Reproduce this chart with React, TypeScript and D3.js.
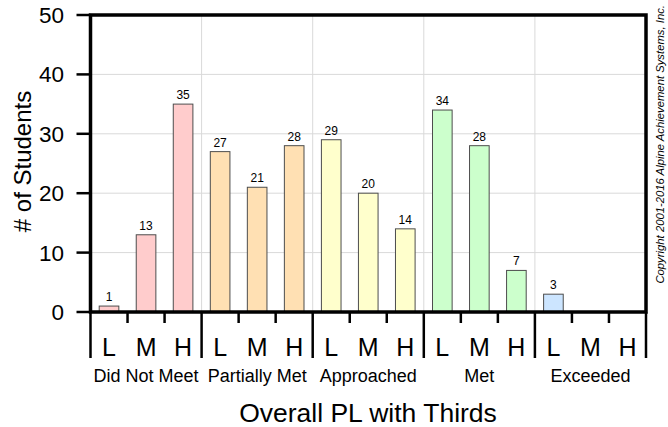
import React from "react";
import * as d3 from "d3";

const groups = ["Did Not Meet", "Partially Met", "Approached", "Met", "Exceeded"];
const thirds = ["L", "M", "H"];
const values = [1, 13, 35, 27, 21, 28, 29, 20, 14, 34, 28, 7, 3, 0, 0];
const colors = ["#FFCCCC", "#FFE0B3", "#FFFFCC", "#CCFFCC", "#CCE5FF"];
const yTicks = [0, 10, 20, 30, 40, 50];

const W = 668, H = 427;
const m = { left: 90.5, right: 646, top: 15, bottom: 312 };
const font = "Liberation Sans, Arial, sans-serif";

export default function App() {
  const keys = d3.range(values.length);
  const x = d3.scaleBand<number>().domain(keys).range([m.left, m.right]).paddingInner(0.47).paddingOuter(0.235);
  const slot = d3.scaleBand<number>().domain(keys).range([m.left, m.right]);
  const y = d3.scaleLinear().domain([0, 50]).range([m.bottom, m.top]);
  const gx = d3.scaleBand<number>().domain(d3.range(groups.length)).range([m.left, m.right]);

  return (
    <svg width={W} height={H} style={{ position: "absolute", left: 0, top: 0 }} fontFamily={font}>
      <rect width={W} height={H} fill="#fff" />
      {yTicks.slice(1, -1).map((t) => (
        <line key={t} x1={m.left} x2={m.right} y1={y(t)} y2={y(t)} stroke="#d9d9d9" strokeWidth={1} />
      ))}
      {d3.range(1, groups.length).map((g) => (
        <line key={g} x1={gx(g)!} x2={gx(g)!} y1={m.top} y2={m.bottom} stroke="#d9d9d9" strokeWidth={1} />
      ))}
      {values.map((v, i) => (
        <g key={i}>
          {v > 0 && (
            <rect x={x(i)!} y={y(v)} width={x.bandwidth()} height={y(0) - y(v)}
              fill={colors[Math.floor(i / 3)]} stroke="#4d4d4d" strokeWidth={1} />
          )}
          {v > 0 && (
            <text x={x(i)! + x.bandwidth() / 2} y={y(v) - 5} textAnchor="middle" fontSize={12} fill="#000">{v}</text>
          )}
        </g>
      ))}
      {/* frame */}
      <rect x={m.left} y={m.top} width={m.right - m.left} height={m.bottom - m.top} fill="none" stroke="#000" strokeWidth={3.5} />
      {/* y ticks */}
      {yTicks.map((t) => (
        <g key={t}>
          <line x1={m.left - 14} x2={m.left} y1={y(t)} y2={y(t)} stroke="#000" strokeWidth={2.5} />
          <text x={64} y={y(t) + 8} textAnchor="end" fontSize={22.5}>{t}</text>
        </g>
      ))}
      <text transform={`translate(31,${(m.top + m.bottom) / 2 - 2}) rotate(-90)`} textAnchor="middle" fontSize={24}>
        # of Students
      </text>
      {/* x small ticks */}
      {keys.map((i) => (i % 3 !== 0 ? (
        <line key={i} x1={slot(i)!} x2={slot(i)!} y1={m.bottom} y2={m.bottom + 11} stroke="#000" strokeWidth={2.5} />
      ) : null))}
      {d3.range(groups.length + 1).map((g) => {
        const gxp = g < groups.length ? gx(g)! : m.right;
        return <line key={g} x1={gxp} x2={gxp} y1={m.bottom} y2={m.bottom + 46} stroke="#000" strokeWidth={2.5} />;
      })}
      {keys.map((i) => (
        <text key={i} x={slot(i)! + slot.bandwidth() / 2} y={356} textAnchor="middle" fontSize={25}>
          {thirds[i % 3]}
        </text>
      ))}
      {groups.map((g, i) => (
        <text key={g} x={gx(i)! + gx.bandwidth() / 2} y={382} textAnchor="middle" fontSize={18}>{g}</text>
      ))}
      <text x={368} y={422} textAnchor="middle" fontSize={26.5}>Overall PL with Thirds</text>
      <text transform={`translate(664,5) rotate(-90)`} textAnchor="end" fontSize={11.3} fontStyle="italic">
        Copyright 2001-2016 Alpine Achievement Systems, Inc.
      </text>
    </svg>
  );
}
